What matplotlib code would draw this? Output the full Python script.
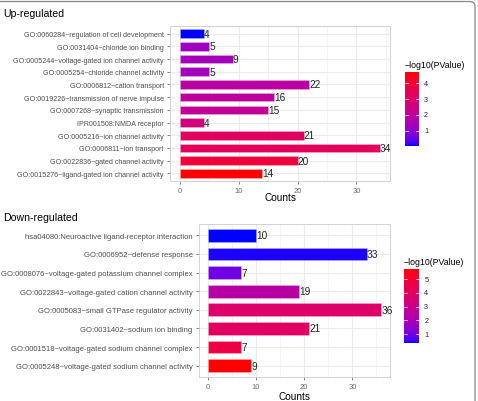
import numpy as np
import matplotlib
matplotlib.use("Agg")
import matplotlib.pyplot as plt
from matplotlib.colors import ListedColormap, Normalize
from matplotlib.patches import FancyBboxPatch

plt.rcParams['font.family'] = ['Liberation Sans', 'DejaVu Sans']

# ---------------- data ----------------
up_terms = [
    "GO:0060284~regulation of cell development",
    "GO:0031404~chloride ion binding",
    "GO:0005244~voltage-gated ion channel activity",
    "GO:0005254~chloride channel activity",
    "GO:0006812~cation transport",
    "GO:0019226~transmission of nerve impulse",
    "GO:0007268~synaptic transmission",
    "IPR001508:NMDA receptor",
    "GO:0005216~ion channel activity",
    "GO:0006811~ion transport",
    "GO:0022836~gated channel activity",
    "GO:0015276~ligand-gated ion channel activity",
]
up_counts = [4, 5, 9, 5, 22, 16, 15, 4, 21, 34, 20, 14]
up_logp = [0.06, 1.3, 1.4, 1.4, 1.9, 2.0, 2.1, 2.6, 3.2, 3.3, 3.9, 4.69]

down_terms = [
    "hsa04080:Neuroactive ligand-receptor interaction",
    "GO:0006952~defense response",
    "GO:0008076~voltage-gated potassium channel complex",
    "GO:0022843~voltage-gated cation channel activity",
    "GO:0005083~small GTPase regulator activity",
    "GO:0031402~sodium ion binding",
    "GO:0001518~voltage-gated sodium channel complex",
    "GO:0005248~voltage-gated sodium channel activity",
]
down_counts = [10, 33, 7, 19, 36, 21, 7, 9]
down_logp = [0.35, 0.4, 1.0, 2.4, 3.8, 4.0, 4.6, 5.73]

up_ticks = [1, 2, 3, 4]
down_ticks = [1, 2, 3, 4, 5]
x_ticks = [0, 10, 20, 30]

# ---------------- Lab gradient blue -> red (like ggplot) ----------------
def srgb_to_lab(rgb):
    rgb = np.asarray(rgb, float)
    lin = np.where(rgb <= 0.04045, rgb / 12.92, ((rgb + 0.055) / 1.055) ** 2.4)
    M = np.array([[0.4124, 0.3576, 0.1805],
                  [0.2126, 0.7152, 0.0722],
                  [0.0193, 0.1192, 0.9505]])
    xyz = M @ lin
    wp = np.array([0.95047, 1.0, 1.08883])
    t = xyz / wp
    f = np.where(t > (6/29)**3, np.cbrt(t), t / (3*(6/29)**2) + 4/29)
    return np.array([116*f[1]-16, 500*(f[0]-f[1]), 200*(f[1]-f[2])])

def lab_to_srgb(lab):
    L, a, b = lab
    fy = (L + 16) / 116
    fx = fy + a / 500
    fz = fy - b / 200
    f = np.array([fx, fy, fz])
    t = np.where(f > 6/29, f**3, 3*(6/29)**2*(f - 4/29))
    xyz = t * np.array([0.95047, 1.0, 1.08883])
    Minv = np.array([[3.2406, -1.5372, -0.4986],
                     [-0.9689, 1.8758, 0.0415],
                     [0.0557, -0.2040, 1.0570]])
    lin = Minv @ xyz
    lin = np.clip(lin, 0, 1)
    rgb = np.where(lin <= 0.0031308, 12.92*lin, 1.055*lin**(1/2.4) - 0.055)
    return np.clip(rgb, 0, 1)

lab_lo = srgb_to_lab([0, 0, 1])
lab_hi = srgb_to_lab([1, 0, 0])
cols = [lab_to_srgb(lab_lo + (lab_hi - lab_lo)*s) for s in np.linspace(0, 1, 256)]
cmap = ListedColormap(cols)

# ---------------- figure ----------------
W, H = 478, 402
fig = plt.figure(figsize=(W/100, H/100), dpi=100)

def fr(x0, y0, x1, y1):
    return [x0/W, 1 - y1/H, (x1-x0)/W, (y1-y0)/H]

GRID = "#EBEBEB"
TXT = "#4D4D4D"

def panel(rect, terms, counts, logp, cbrect, cbticks, title, title_y, counts_y_px, lab_fs):
    ax = fig.add_axes(fr(*rect))
    n = len(terms)
    ypos = np.arange(n)[::-1]
    norm = Normalize(min(logp), max(logp))
    colors = [cmap(norm(v)) for v in logp]
    xmax = max(counts)
    ax.set_xlim(-0.05*xmax, 1.05*xmax)
    ax.set_ylim(-0.6, n - 1 + 0.6)
    for xm in [5, 15, 25, 35]:
        ax.axvline(xm, color=GRID, lw=0.4, zorder=0)
    for xm in x_ticks:
        ax.axvline(xm, color=GRID, lw=0.8, zorder=0)
    for y in ypos:
        ax.axhline(y, color=GRID, lw=0.8, zorder=0)
    ax.barh(ypos, counts, height=0.68, color=colors,
            edgecolor=[(1, 1, 1, 0.35)]*n, linewidth=0.4, zorder=2)
    for y, c in zip(ypos, counts):
        ax.text(c, y, str(c), ha='left', va='center', fontsize=7.3,
                color='#222222', clip_on=False, zorder=3)
    ax.set_yticks(ypos)
    ax.set_yticklabels(terms, fontsize=lab_fs, color=TXT)
    ax.set_xticks(x_ticks)
    ax.set_xticklabels([str(t) for t in x_ticks], fontsize=5.5, color='#6E6E6E')
    ax.tick_params(axis='both', length=2.5, width=0.5, color='#555555', pad=2)
    for s in ax.spines.values():
        s.set_color('#CCCCCC')
        s.set_linewidth(0.6)
    ax.set_facecolor('white')
    cx = (rect[0] + rect[2]) / 2
    fig.text(cx/W, 1 - counts_y_px/H, "Counts", ha='center', va='center', fontsize=7.2, color='black')
    fig.text(3/W, 1 - title_y/H, title, ha='left', va='center', fontsize=7.6, color='black')

    # colorbar
    cax = fig.add_axes(fr(*cbrect))
    grad = np.linspace(norm.vmin, norm.vmax, 300).reshape(-1, 1)
    cax.imshow(grad, aspect='auto', cmap=cmap, norm=norm, origin='lower',
               extent=[0, 1, norm.vmin, norm.vmax])
    cax.set_xlim(0, 1)
    cax.set_ylim(norm.vmin, norm.vmax)
    cax.set_xticks([])
    cax.set_yticks([])
    for s in cax.spines.values():
        s.set_visible(False)
    for t in cbticks:
        cax.plot([0, 0.2], [t, t], color='white', lw=0.5)
        cax.plot([0.8, 1], [t, t], color='white', lw=0.5)
        cax.text(1.35, t, str(t), ha='left', va='center', fontsize=5.2,
                 color='#222222', transform=cax.transData, clip_on=False)
    fig.text((cbrect[0])/W, 1 - (cbrect[1] - 7)/H, "\u2212log10(PValue)", ha='left',
             va='center', fontsize=6.3, color='black')
    return ax

panel((170, 27, 390, 182), up_terms, up_counts, up_logp,
      (405, 73, 419, 147), up_ticks, "Up-regulated", 14, 198, 5.1)
panel((199, 225, 390, 378), down_terms, down_counts, down_logp,
      (404, 270, 419, 344), down_ticks, "Down-regulated", 218, 397, 5.5)

# border (top and right)
border = FancyBboxPatch((-20/W, -20/H), (475+20)/W, (H - 2.5 + 20)/H,
                        boxstyle="round,pad=0,rounding_size=0.012",
                        transform=fig.transFigure, fill=False,
                        edgecolor='#888888', linewidth=0.9, clip_on=False)
fig.patches.append(border)

fig.savefig("out.png", dpi=100, facecolor='white')
